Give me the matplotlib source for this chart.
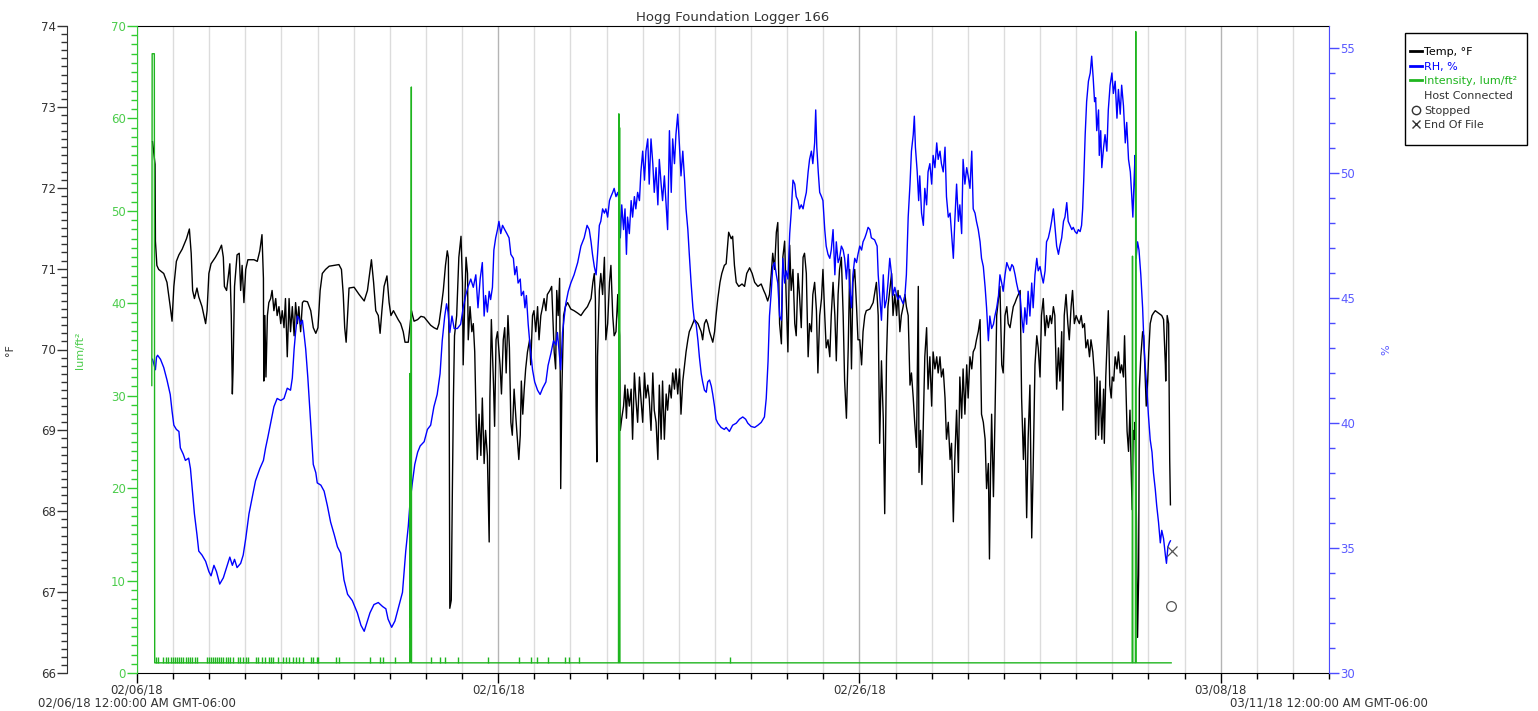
import numpy as np
import matplotlib
matplotlib.use("Agg")
import matplotlib.pyplot as plt
import matplotlib.dates as mdates
from matplotlib.lines import Line2D
from matplotlib.patches import Rectangle
from matplotlib.ticker import MultipleLocator, FixedLocator
from datetime import datetime

START = datetime(2018, 2, 6)
END = datetime(2018, 3, 11)

# all times are days since 02/06/18 12:00 AM
temp_days = [
    0.43, 0.50, 0.51, 0.55, 0.60, 0.74, 0.83, 0.92, 0.97, 1.02,
    1.09, 1.16, 1.25, 1.37, 1.45, 1.50, 1.54, 1.59, 1.66, 1.71,
    1.80, 1.90, 1.94, 1.99, 2.05, 2.17, 2.27, 2.34, 2.39, 2.42,
    2.48, 2.52, 2.57, 2.61, 2.64, 2.66, 2.70, 2.77, 2.83, 2.87,
    2.91, 2.96, 3.01, 3.07, 3.24, 3.33, 3.40, 3.46, 3.50, 3.51,
    3.54, 3.57, 3.61, 3.65, 3.70, 3.74, 3.79, 3.84, 3.88, 3.93,
    3.98, 4.02, 4.07, 4.11, 4.16, 4.21, 4.25, 4.30, 4.35, 4.39,
    4.44, 4.48, 4.53, 4.58, 4.62, 4.72, 4.81, 4.88, 4.95, 5.01,
    5.07, 5.13, 5.22, 5.32, 5.46, 5.59, 5.66, 5.71, 5.75, 5.79,
    5.83, 5.87, 6.01, 6.15, 6.29, 6.38, 6.44, 6.49, 6.55, 6.61,
    6.68, 6.73, 6.78, 6.84, 6.92, 6.98, 7.03, 7.10, 7.17, 7.23,
    7.30, 7.37, 7.42, 7.51, 7.56, 7.60, 7.63, 7.67, 7.77, 7.86,
    7.95, 8.04,
    8.13, 8.22, 8.31, 8.36, 8.41, 8.48, 8.54, 8.59, 8.62, 8.64,
    8.66, 8.70, 8.73, 8.76, 8.79, 8.85, 8.91, 8.97, 9.01, 9.03,
    9.07, 9.11, 9.15, 9.17, 9.22, 9.27, 9.31, 9.35, 9.39, 9.42,
    9.47, 9.52, 9.56, 9.61, 9.65, 9.70, 9.75, 9.77, 9.81, 9.87,
    9.90, 9.94, 9.98, 10.05, 10.09, 10.14, 10.18, 10.22, 10.27, 10.31,
    10.35, 10.39, 10.44, 10.49, 10.53, 10.57, 10.61, 10.64, 10.68, 10.72,
    10.76, 10.81, 10.87, 10.90, 10.95, 10.99, 11.04, 11.09, 11.13, 11.18,
    11.23, 11.27, 11.32, 11.36, 11.43, 11.48, 11.51, 11.55, 11.59, 11.62,
    11.66, 11.70, 11.72, 11.73, 11.76, 11.81, 11.86, 11.92, 12.01, 12.10,
    12.20, 12.29, 12.38, 12.47, 12.57, 12.62, 12.66, 12.69, 12.71, 12.73,
    12.75, 12.80, 12.84, 12.89, 12.94, 12.98, 13.03, 13.08, 13.12, 13.17,
    13.21, 13.26, 13.31, 13.33, 13.36, 13.38, 13.42, 13.47, 13.51, 13.55,
    13.58, 13.63, 13.68, 13.72, 13.77, 13.81, 13.86, 13.91, 13.95, 14.00,
    14.05, 14.09, 14.14, 14.18, 14.23, 14.28, 14.32, 14.37, 14.42, 14.46,
    14.51, 14.55, 14.60, 14.65, 14.69, 14.74, 14.79, 14.83, 14.88, 14.92,
    14.97, 15.02, 15.06, 15.11, 15.16, 15.20, 15.25, 15.29, 15.34, 15.43,
    15.53, 15.62, 15.66, 15.71, 15.76, 15.80, 15.85, 15.94, 15.99, 16.03,
    16.08, 16.14, 16.19, 16.26,
    16.31, 16.38, 16.45, 16.49, 16.54, 16.59, 16.66, 16.75, 16.82, 16.88,
    16.96, 17.03, 17.10, 17.19, 17.28, 17.35, 17.40, 17.46, 17.51, 17.56,
    17.60, 17.65, 17.70, 17.74, 17.79, 17.84, 17.88, 17.93, 17.97, 18.02,
    18.07, 18.11, 18.16, 18.21, 18.25, 18.30, 18.34, 18.39, 18.44, 18.48,
    18.53, 18.58, 18.62, 18.67, 18.71, 18.76, 18.81, 18.85, 18.90, 18.95,
    18.99, 19.04, 19.08, 19.13, 19.18, 19.22, 19.27, 19.32, 19.36, 19.41,
    19.45, 19.50, 19.55, 19.59, 19.64, 19.69, 19.73, 19.78, 19.82, 19.87,
    19.92, 19.96, 20.01, 20.06, 20.10, 20.15, 20.19, 20.29, 20.38, 20.47,
    20.52, 20.56, 20.61, 20.66, 20.70, 20.75, 20.79, 20.84, 20.89, 20.93,
    20.98, 21.03, 21.07, 21.12, 21.16, 21.21, 21.26, 21.30, 21.35, 21.40,
    21.44, 21.49, 21.53, 21.58, 21.63, 21.65, 21.69, 21.73, 21.77, 21.81,
    21.86, 21.90, 21.95, 22.00, 22.04, 22.09, 22.14, 22.18, 22.23, 22.27,
    22.32, 22.37, 22.41, 22.46, 22.51, 22.55, 22.60, 22.64, 22.69, 22.74,
    22.78, 22.83, 22.87, 22.92, 22.97, 23.01, 23.06, 23.11, 23.15, 23.20,
    23.24, 23.29, 23.34, 23.38, 23.43, 23.48, 23.52, 23.57, 23.60, 23.63,
    23.66, 23.71, 23.75, 23.80, 23.85, 23.89, 23.94, 23.98, 24.03, 24.08,
    24.12, 24.17, 24.22, 24.26, 24.31, 24.35, 24.40, 24.45,
    24.49, 24.54, 24.58, 24.63, 24.67, 24.72, 24.77, 24.81, 24.86, 24.91,
    24.95, 25.00, 25.04, 25.09, 25.14, 25.18, 25.23, 25.28, 25.32, 25.37,
    25.41, 25.46, 25.51, 25.55, 25.60, 25.63, 25.67, 25.72, 25.77, 25.81,
    25.86, 25.90, 25.95, 26.00, 26.04, 26.09, 26.14, 26.18, 26.23, 26.27,
    26.32, 26.37, 26.41, 26.46, 26.51, 26.54, 26.58, 26.62, 26.66, 26.71,
    26.76, 26.78, 26.82, 26.86, 26.89, 26.93, 26.97, 27.00, 27.04, 27.08,
    27.13, 27.17, 27.22, 27.26, 27.31, 27.34, 27.37, 27.41, 27.45, 27.49,
    27.52, 27.55, 27.58, 27.61, 27.63, 27.67, 27.70, 27.73, 27.75, 27.79,
    27.84, 27.87, 27.91, 27.94, 27.98, 28.01, 28.05, 28.10, 28.14, 28.19,
    28.28, 28.37, 28.42, 28.47, 28.48, 28.52, 28.56, 28.59, 28.61,
]
temp_f = [
    72.57, 72.29, 71.34, 71.04, 70.99, 70.94, 70.83, 70.53, 70.35, 70.78,
    71.09, 71.17, 71.24, 71.37, 71.49, 71.19, 70.73, 70.63, 70.76, 70.65,
    70.53, 70.32, 70.48, 70.94, 71.06, 71.14, 71.22, 71.29, 71.14, 70.78,
    70.73, 70.88, 71.06, 70.42, 69.45, 69.76, 70.78, 71.17, 71.19, 70.73,
    71.04, 70.58, 70.99, 71.11, 71.11, 71.09, 71.22, 71.42, 70.88, 69.61,
    70.42, 69.66, 70.42, 70.58, 70.63, 70.73, 70.48, 70.63, 70.42, 70.53,
    70.32, 70.48, 70.27, 70.63, 69.91, 70.63, 70.22, 70.53, 70.17, 70.58,
    70.32, 70.53, 70.22, 70.58, 70.60, 70.59, 70.48, 70.27, 70.20, 70.27,
    70.73, 70.94, 70.99, 71.03, 71.04, 71.05, 70.99, 70.68, 70.27, 70.09,
    70.42, 70.76, 70.77, 70.68, 70.60, 70.73, 70.94, 71.11, 70.83, 70.48,
    70.42, 70.20, 70.48, 70.78, 70.91, 70.58, 70.42, 70.48, 70.42, 70.37,
    70.32, 70.22, 70.09, 70.09, 70.30, 70.48, 70.42, 70.35, 70.37, 70.41,
    70.40, 70.35,
    70.30, 70.27, 70.25, 70.32, 70.48, 70.73, 71.04, 71.22, 71.14, 69.91,
    66.80, 66.90, 68.23, 69.40, 70.17, 70.42, 71.14, 71.40, 70.83, 69.81,
    70.53, 71.14, 70.94, 70.12, 70.53, 70.22, 70.32, 69.97, 69.10, 68.64,
    69.20, 68.69, 69.40, 68.59, 69.00, 68.69, 67.62, 69.40, 70.37, 69.56,
    69.05, 70.12, 70.22, 69.81, 69.45, 70.12, 70.27, 69.71, 70.42, 70.02,
    69.10, 68.94, 69.51, 69.15, 68.89, 68.64, 68.94, 69.61, 69.20, 69.51,
    69.76, 69.97, 70.12, 69.81, 70.42, 70.48, 70.22, 70.53, 70.12, 70.42,
    70.53, 70.63, 70.48, 70.68, 70.73, 70.78, 70.42, 69.97, 69.76, 70.73,
    70.42, 70.88, 69.51, 68.28, 69.45, 70.42, 70.53, 70.58, 70.50, 70.48,
    70.45, 70.42, 70.48, 70.53, 70.63, 70.83, 70.94, 70.63, 69.30, 68.61,
    69.91, 70.73, 70.94, 70.68, 71.14, 70.12, 70.32, 70.83, 71.04, 70.42,
    70.17, 70.22, 70.68, 70.42, 70.17, 69.00, 69.15, 69.30, 69.56, 69.15,
    69.51, 69.30, 69.51, 68.89, 69.71, 69.40, 69.10, 69.66, 69.40, 69.10,
    69.71, 69.40, 69.56, 69.40, 69.00, 69.71, 69.25, 69.10, 68.64, 69.56,
    68.89, 69.61, 68.89, 69.45, 69.25, 69.56, 69.40, 69.71, 69.51, 69.76,
    69.45, 69.76, 69.20, 69.61, 69.81, 69.97, 70.12, 70.22, 70.27, 70.37,
    70.32, 70.22, 70.12, 70.32, 70.37, 70.32, 70.22, 70.09, 70.22, 70.42,
    70.63, 70.83, 70.94, 71.04,
    71.06, 71.45, 71.37, 71.40, 71.04, 70.83, 70.78, 70.81, 70.78, 70.94,
    71.01, 70.94, 70.83, 70.78, 70.81, 70.73, 70.68, 70.60, 70.68, 70.94,
    71.19, 70.99, 71.45, 71.57, 70.32, 70.07, 71.14, 71.34, 70.68, 69.97,
    71.29, 70.73, 70.99, 70.32, 70.17, 70.94, 70.68, 70.27, 71.14, 71.19,
    70.94, 69.91, 70.32, 70.22, 70.68, 70.83, 70.48, 69.71, 70.42, 70.63,
    70.99, 70.42, 70.02, 70.12, 69.91, 70.42, 70.83, 70.42, 69.86, 70.68,
    70.99, 71.14, 70.42, 69.61, 69.15, 70.02, 70.99, 69.76, 70.83, 70.99,
    70.53, 70.12, 70.12, 69.81, 70.22, 70.42, 70.48, 70.50, 70.58, 70.83,
    70.42, 68.84, 69.86, 69.15, 67.97, 69.91, 70.53, 70.73, 70.94, 70.42,
    70.68, 70.42, 70.73, 70.22, 70.42, 70.53, 70.68, 70.53, 70.42, 69.56,
    69.71, 69.40, 69.10, 68.79, 70.78, 68.48, 69.00, 68.33, 69.10, 69.91,
    70.27, 69.51, 69.91, 69.30, 69.97, 69.76, 69.91, 69.71, 69.91, 69.66,
    69.76, 69.40, 68.89, 69.10, 68.64, 68.84, 67.87, 68.64, 69.25, 68.48,
    69.66, 69.15, 69.76, 69.20, 69.81, 69.40, 69.91, 69.76, 69.97, 70.02,
    70.12, 70.22, 70.37, 69.20, 69.10, 68.89, 68.28, 68.59, 67.41, 68.48,
    69.20, 68.18, 69.10, 70.42, 70.63, 70.78, 69.81, 69.71, 70.42, 70.53,
    70.32, 70.27, 70.42, 70.53, 70.58, 70.63, 70.68, 70.73,
    69.40, 68.64, 69.15, 67.92, 68.89, 69.56, 67.67, 68.54, 69.81, 70.17,
    70.02, 69.66, 70.42, 70.63, 70.17, 70.42, 70.27, 70.42, 70.32, 70.53,
    70.42, 69.51, 70.02, 69.61, 70.22, 69.25, 70.42, 70.68, 70.32, 70.12,
    70.53, 70.73, 70.32, 70.42, 70.37, 70.32, 70.42, 70.27, 70.32, 70.02,
    70.12, 69.91, 70.12, 69.97, 69.66, 68.89, 69.66, 68.94, 69.61, 68.89,
    69.51, 68.84, 69.66, 70.12, 70.48, 69.56, 69.40, 69.66, 69.61, 69.91,
    69.76, 69.97, 69.71, 69.81, 69.66, 70.17, 69.66, 68.99, 68.74, 69.25,
    68.59, 68.02, 69.00, 68.89, 69.10, 67.87, 66.44, 67.21, 69.51, 69.91,
    70.22, 70.17, 69.66, 69.30, 69.61, 69.97, 70.32, 70.42, 70.45, 70.48,
    70.45, 70.42, 70.37, 69.81, 69.61, 70.42, 70.32, 68.64, 68.08,
]

rh_days = [
    0.43, 0.51, 0.54, 0.57, 0.65, 0.74, 0.83, 0.92, 0.97, 1.02,
    1.09, 1.16, 1.20, 1.28, 1.34, 1.43, 1.48, 1.53, 1.59, 1.66,
    1.71, 1.80, 1.90, 1.99, 2.05, 2.13, 2.20, 2.29, 2.39, 2.48,
    2.57, 2.64, 2.70, 2.77, 2.87, 2.94, 3.01, 3.10, 3.19, 3.28,
    3.40, 3.50, 3.56, 3.62, 3.70, 3.79, 3.88, 3.98, 4.07, 4.16,
    4.25, 4.30, 4.35, 4.39, 4.44, 4.48, 4.53, 4.58, 4.62, 4.67,
    4.73, 4.81, 4.88, 4.95, 4.99, 5.09, 5.18, 5.27, 5.36, 5.46,
    5.55, 5.64, 5.73, 5.83, 5.96, 6.10, 6.20, 6.29, 6.36, 6.45,
    6.56, 6.68, 6.80, 6.89, 6.95, 7.05, 7.14, 7.23, 7.35, 7.44,
    7.51, 7.56, 7.63, 7.69, 7.77, 7.84, 7.95, 8.04,
    8.13, 8.22, 8.31, 8.39, 8.45, 8.52, 8.57, 8.61, 8.66, 8.72,
    8.78, 8.87, 8.96, 9.03, 9.10, 9.16, 9.24, 9.31, 9.38, 9.44,
    9.50, 9.56, 9.61, 9.65, 9.70, 9.75, 9.79, 9.84, 9.88, 9.93,
    9.98, 10.02, 10.07, 10.12, 10.18, 10.24, 10.30, 10.35, 10.42, 10.46,
    10.51, 10.55, 10.61, 10.64, 10.70, 10.74, 10.78, 10.83, 10.88, 10.95,
    11.01, 11.09, 11.16, 11.23, 11.32, 11.38, 11.46, 11.53, 11.60, 11.64,
    11.70, 11.73, 11.78, 11.83, 11.87, 11.94, 12.01, 12.10, 12.20, 12.29,
    12.38, 12.46, 12.52, 12.57, 12.61, 12.66, 12.71, 12.75, 12.80, 12.84,
    12.89, 12.94, 12.98, 13.03, 13.08, 13.12, 13.17, 13.21, 13.26, 13.31,
    13.35, 13.38, 13.42, 13.47, 13.51, 13.55, 13.58, 13.63, 13.68, 13.72,
    13.77, 13.81, 13.86, 13.91, 13.95, 14.00, 14.05, 14.09, 14.14, 14.18,
    14.23, 14.28, 14.32, 14.37, 14.42, 14.46, 14.51, 14.55, 14.60, 14.65,
    14.69, 14.74, 14.79, 14.83, 14.88, 14.92, 14.97, 15.02, 15.06, 15.11,
    15.16, 15.20, 15.25, 15.29, 15.34, 15.39, 15.43, 15.48, 15.53, 15.57,
    15.62, 15.66, 15.71, 15.76, 15.80, 15.85, 15.90, 15.94, 15.99, 16.03,
    16.08, 16.17, 16.26,
    16.31, 16.40, 16.49, 16.59, 16.68, 16.77, 16.85, 16.91, 17.00, 17.10,
    17.19, 17.28, 17.37, 17.42, 17.47, 17.51, 17.56, 17.60, 17.65, 17.70,
    17.74, 17.79, 17.84, 17.88, 17.93, 17.97, 18.02, 18.07, 18.11, 18.16,
    18.21, 18.25, 18.30, 18.34, 18.39, 18.44, 18.48, 18.53, 18.58, 18.62,
    18.67, 18.71, 18.76, 18.79, 18.82, 18.86, 18.90, 18.95, 18.99, 19.04,
    19.08, 19.13, 19.18, 19.22, 19.27, 19.32, 19.36, 19.41, 19.45, 19.50,
    19.55, 19.59, 19.64, 19.69, 19.73, 19.78, 19.82, 19.87, 19.92, 19.96,
    20.01, 20.06, 20.10, 20.15, 20.19, 20.24, 20.29, 20.33, 20.42, 20.49,
    20.52, 20.56, 20.61, 20.66, 20.70, 20.75, 20.79, 20.84, 20.89, 20.93,
    20.98, 21.03, 21.07, 21.12, 21.16, 21.21, 21.26, 21.30, 21.35, 21.40,
    21.44, 21.49, 21.52, 21.55, 21.60, 21.64, 21.67, 21.72, 21.77, 21.81,
    21.86, 21.90, 21.95, 22.00, 22.04, 22.09, 22.14, 22.18, 22.23, 22.27,
    22.32, 22.37, 22.41, 22.46, 22.51, 22.55, 22.60, 22.64, 22.69, 22.74,
    22.78, 22.83, 22.87, 22.92, 22.97, 23.01, 23.06, 23.11, 23.15, 23.20,
    23.24, 23.29, 23.34, 23.38, 23.43, 23.48, 23.52, 23.57, 23.61, 23.66,
    23.71, 23.75, 23.80, 23.85, 23.89, 23.94, 23.98, 24.03, 24.08, 24.12,
    24.17, 24.22, 24.26, 24.31, 24.35, 24.40, 24.45,
    24.49, 24.54, 24.58, 24.63, 24.67, 24.72, 24.77, 24.81, 24.86, 24.91,
    24.95, 25.00, 25.04, 25.09, 25.14, 25.18, 25.23, 25.28, 25.32, 25.37,
    25.41, 25.46, 25.51, 25.55, 25.60, 25.65, 25.69, 25.74, 25.78, 25.83,
    25.88, 25.92, 25.97, 26.02, 26.06, 26.11, 26.15, 26.18, 26.21, 26.25,
    26.29, 26.34, 26.39, 26.43, 26.47, 26.51, 26.54, 26.57, 26.62, 26.64,
    26.68, 26.71, 26.76, 26.80, 26.85, 26.89, 26.94, 26.99, 27.03, 27.08,
    27.13, 27.17, 27.22, 27.26, 27.31, 27.36, 27.40, 27.45, 27.50, 27.54,
    27.57, 27.60, 27.63, 27.66, 27.70, 27.74, 27.79, 27.84, 27.87, 27.91,
    27.96, 28.00, 28.05, 28.10, 28.14, 28.19, 28.23, 28.28, 28.33, 28.37,
    28.42, 28.47, 28.50, 28.54, 28.58, 28.61,
]
rh_pct = [
    42.56, 42.14, 42.64, 42.72, 42.56, 42.23, 41.73, 41.15, 40.49, 39.92,
    39.75, 39.67, 39.01, 38.76, 38.51, 38.60, 38.18, 37.36, 36.37, 35.54,
    34.88, 34.72, 34.47, 34.06, 33.89, 34.31, 34.06, 33.56, 33.81, 34.22,
    34.64, 34.31, 34.55, 34.22, 34.39, 34.72, 35.38, 36.37, 37.03, 37.69,
    38.18, 38.51, 39.01, 39.42, 40.00, 40.66, 40.99, 40.91, 40.99, 41.40,
    41.32, 41.81, 42.97, 43.63, 44.29, 44.21, 43.96, 44.12, 43.63, 42.97,
    41.81, 40.00, 38.35, 38.02, 37.61, 37.52, 37.28, 36.70, 36.04, 35.54,
    35.05, 34.80, 33.73, 33.15, 32.90, 32.41, 31.91, 31.67, 32.00, 32.41,
    32.74, 32.82, 32.66, 32.57, 32.16, 31.83, 32.08, 32.57, 33.23, 34.88,
    35.87, 36.86, 37.69, 38.35, 38.84, 39.09, 39.26, 39.75,
    39.92, 40.66, 41.15, 41.98, 43.30, 44.29, 44.78, 44.45, 43.63, 44.29,
    43.79, 43.79, 43.96, 44.62, 45.11, 45.44, 45.77, 45.44, 45.94, 44.62,
    45.77, 46.43, 44.29, 45.11, 44.45, 45.28, 44.95, 45.44, 46.93, 47.42,
    47.75, 48.08, 47.59, 47.92, 47.75, 47.59, 47.42, 46.76, 46.60, 45.94,
    46.27, 45.61, 45.77, 45.11, 45.28, 44.62, 45.11, 43.96, 43.13, 42.14,
    41.65, 41.32, 41.15, 41.40, 41.65, 42.31, 42.80, 43.30, 43.13, 43.63,
    42.64, 42.14, 43.63, 44.29, 44.78, 45.28, 45.61, 45.94, 46.43, 47.09,
    47.42, 47.92, 47.75, 47.26, 46.76, 46.27, 45.94, 46.76, 47.92, 48.08,
    48.58, 48.41, 48.58, 48.25, 48.91, 49.07, 49.24, 49.40, 49.07, 49.24,
    48.91, 47.42, 48.74, 47.75, 48.58, 46.76, 48.25, 47.59, 48.91, 48.25,
    49.07, 48.58, 49.24, 48.91, 50.06, 50.89, 49.73, 50.89, 51.38, 49.57,
    51.38, 50.39, 49.24, 50.23, 48.74, 50.56, 49.57, 48.91, 49.90, 48.74,
    47.75, 51.71, 49.24, 51.38, 50.39, 51.55, 52.37, 51.05, 49.90, 50.89,
    49.73, 48.58, 47.75, 46.76, 45.61, 44.62, 44.12, 43.96, 43.30, 42.64,
    41.98, 41.65, 41.32, 41.24, 41.65, 41.73, 41.48, 41.15, 40.66, 40.16,
    40.00, 39.83, 39.75,
    39.83, 39.67, 39.92, 40.00, 40.16, 40.25, 40.16, 40.00, 39.87, 39.83,
    39.92, 40.03, 40.25, 40.99, 42.47, 44.29, 45.28, 46.27, 46.43, 45.94,
    45.61, 44.29, 44.12, 46.60, 45.61, 46.10, 45.77, 47.59, 48.41, 49.73,
    49.57, 49.07, 48.91, 48.58, 48.74, 48.58, 48.91, 49.24, 50.06, 50.56,
    50.89, 50.39, 51.22, 52.54, 51.05, 50.06, 49.24, 49.07, 48.91, 47.75,
    47.09, 46.76, 46.60, 46.93, 47.75, 45.94, 47.26, 46.43, 46.60, 47.09,
    46.93, 46.60, 45.77, 46.76, 45.44, 44.62, 45.94, 46.60, 46.43, 46.76,
    47.09, 46.93, 47.26, 47.42, 47.59, 47.84, 47.75, 47.42, 47.34, 47.09,
    45.94, 45.11, 44.12, 45.94, 44.62, 44.95, 45.61, 46.60, 45.94, 45.11,
    45.44, 45.11, 44.95, 45.11, 44.95, 44.78, 45.11, 45.94, 48.25, 49.57,
    50.89, 51.55, 52.29, 51.05, 50.06, 48.91, 49.90, 48.41, 47.92, 49.40,
    48.74, 50.06, 50.39, 49.57, 50.72, 50.23, 51.22, 50.56, 50.89, 50.39,
    50.06, 51.05, 49.07, 48.25, 48.41, 47.59, 46.60, 48.08, 49.57, 48.08,
    48.74, 47.59, 50.56, 49.57, 50.23, 49.90, 49.40, 50.89, 48.58, 48.41,
    48.08, 47.75, 47.26, 46.60, 46.27, 45.44, 44.62, 43.30, 44.29, 43.79,
    43.96, 44.29, 44.62, 45.11, 45.94, 45.61, 45.28, 45.94, 46.43, 46.27,
    46.10, 46.35, 46.27, 45.94, 45.61, 45.28, 45.11,
    44.29, 43.63, 44.62, 43.96, 45.28, 44.29, 45.61, 44.62, 45.94, 46.60,
    46.10, 46.27, 45.94, 45.61, 46.10, 47.26, 47.42, 47.75, 48.08, 48.58,
    47.92, 47.09, 46.76, 47.09, 47.42, 48.08, 48.25, 48.83, 48.08, 47.92,
    47.75, 47.84, 47.67, 47.59, 47.75, 47.67, 47.92, 48.58, 49.73, 51.55,
    52.87, 53.69, 54.02, 54.69, 53.86, 52.87, 53.03, 51.71, 52.54, 50.72,
    51.71, 50.23, 51.05, 51.55, 50.89, 52.54, 53.53, 54.02, 53.20, 53.69,
    52.21, 53.36, 52.37, 53.53, 52.70, 51.22, 52.04, 50.56, 50.06, 49.07,
    48.25, 49.57, 50.72, 46.60, 47.26, 46.93, 45.94, 44.62, 43.46, 42.31,
    41.32, 40.33, 39.34, 38.84, 38.02, 37.36, 36.70, 36.04, 35.21, 35.71,
    35.38, 34.72, 34.39, 35.05, 35.21, 35.29,
]

light_days = [0.41, 0.42, 0.48, 0.49,
              7.55, 7.555, 7.565, 7.57, 7.58, 7.595, 7.60,
              13.33, 13.34, 13.35, 13.36, 13.37,
              27.55, 27.56, 27.57, 27.64, 27.65, 27.66, 28.63]
light_lum = [31.1, 67.0, 67.0, 1.1,
             1.1, 32.4, 5.0, 30.0, 1.1, 63.4, 1.1,
             1.1, 60.5, 1.1, 59.0, 1.1,
             1.1, 45.1, 1.1, 1.1, 69.4, 1.1, 1.1]
# short flickers just above the night level
blip_days = [0.53, 0.58, 0.72, 0.80, 0.86, 0.94, 1.00, 1.05, 1.11, 1.17,
             1.22, 1.28, 1.36, 1.41, 1.47, 1.53, 1.61, 1.66, 1.94, 2.00,
             2.05, 2.11, 2.16, 2.22, 2.27, 2.33, 2.39, 2.47, 2.52, 2.58,
             2.66, 2.80, 2.86, 2.94, 3.02, 3.08, 3.30, 3.36, 3.47, 3.55,
             3.66, 3.72, 3.77, 3.91, 4.05, 4.13, 4.22, 4.33, 4.41, 4.49,
             4.60, 4.83, 4.88, 4.97, 5.02, 5.52, 5.60, 6.44, 6.74, 6.82,
             7.13, 8.13, 8.38, 8.54, 8.90, 9.71, 10.57, 10.90, 11.07, 11.37,
             11.84, 11.96, 12.23, 16.42]
night_lum = 1.1
blip_lum = 1.75

stopped_day, stopped_rh = 28.62, 32.7
eof_day, eof_rh = 28.64, 34.9

assert len(temp_days) == len(temp_f)
assert len(rh_days) == len(rh_pct)
assert len(light_days) == len(light_lum)

TEMP_C = "black"
RH_C = "#0000ff"
LI_C = "#1fb51f"
LI_AX = "#33cc33"
RH_AX = "#4b4bff"
GREY = "#333333"

W, H = 1538, 711
L, R, T, B = 137, 1329, 26, 673

t0 = mdates.date2num(START)
t1 = mdates.date2num(END)


def tx(days):
    return t0 + np.asarray(days)


fig = plt.figure(figsize=(W / 100, H / 100), dpi=100)
ax = fig.add_axes([L / W, 1 - B / H, (R - L) / W, (B - T) / H])
ax_rh = ax.twinx()
ax_li = ax.twinx()

# temperature (host axis, outer left scale)
ax.plot(tx(temp_days), temp_f, color=TEMP_C, lw=1.0)
ax.set_ylim(66, 74)
ax.set_xlim(t0, t1)
ax.yaxis.set_major_locator(MultipleLocator(1))
ax.yaxis.set_minor_locator(MultipleLocator(0.1))
ax.spines["left"].set_position(("axes", -(L - 67) / (R - L)))
ax.spines["left"].set_color(GREY)
ax.spines["right"].set_visible(False)
ax.tick_params(axis="y", which="major", length=7, width=1, pad=1,
               labelsize=8.5, color=GREY, labelcolor=GREY)
ax.tick_params(axis="y", which="minor", length=4, width=1, color=GREY)

ax.xaxis.set_major_locator(FixedLocator([t0 + 10 * k for k in range(4)]))
ax.xaxis.set_minor_locator(mdates.DayLocator())
ax.xaxis.set_major_formatter(mdates.DateFormatter("%m/%d/%y"))
ax.tick_params(axis="x", which="major", length=7, width=1, pad=0.5,
               labelsize=8.5, color="black", labelcolor=GREY)
ax.tick_params(axis="x", which="minor", length=4, width=1, color="black")
ax.grid(which="minor", axis="x", color="#dcdcdc", lw=1)
ax.grid(which="major", axis="x", color="#b4b4b4", lw=1)
ax.set_axisbelow(True)

# relative humidity (right scale)
ax_rh.plot(tx(rh_days), rh_pct, color=RH_C, lw=1.0)
ax_rh.plot(tx([eof_day]), [eof_rh], ls="none", marker="x", ms=7,
           mew=0.9, color="#555555")
ax_rh.plot(tx([stopped_day]), [stopped_rh], ls="none", marker="o", ms=7,
           mfc="none", mew=0.9, mec="#555555")
ax_rh.set_ylim(30, 55.9)
ax_rh.yaxis.set_major_locator(MultipleLocator(5))
ax_rh.yaxis.set_minor_locator(MultipleLocator(1))
for s in ("left", "top", "bottom"):
    ax_rh.spines[s].set_visible(False)
ax_rh.spines["right"].set_color(RH_AX)
ax_rh.tick_params(axis="y", which="major", length=7, width=1, pad=1,
                  labelsize=8.5, color=RH_AX, labelcolor="#5a5aff")
ax_rh.tick_params(axis="y", which="minor", length=4, width=1, color=RH_AX)

# light intensity (inner left scale)
ax_li.plot(tx(light_days), light_lum, color=LI_C, lw=1.0)
ax_li.vlines(tx(blip_days), night_lum, blip_lum, color=LI_C, lw=1.0)
ax_li.set_ylim(0, 70)
ax_li.yaxis.set_ticks_position("left")
ax_li.yaxis.set_label_position("left")
ax_li.yaxis.set_major_locator(MultipleLocator(10))
ax_li.yaxis.set_minor_locator(MultipleLocator(1))
for s in ("right", "top", "bottom"):
    ax_li.spines[s].set_visible(False)
ax_li.spines["left"].set_visible(True)
ax_li.spines["left"].set_color(LI_AX)
ax_li.tick_params(axis="y", which="major", length=7, width=1, pad=1,
                  labelsize=8.5, color=LI_AX, labelcolor="#4ccc4c")
ax_li.tick_params(axis="y", which="minor", length=4, width=1, color=LI_AX)

# axis names and title
fig.text(10 / W, 1 - 350 / H, "°F", rotation=90, ha="center", va="center",
         fontsize=8, color=GREY)
fig.text(80 / W, 1 - 350 / H, "lum/ft²", rotation=90, ha="center",
         va="center", fontsize=8, color="#4ccc4c")
fig.text(1386 / W, 1 - 350 / H, "%", rotation=90, ha="center", va="center",
         fontsize=8, color="#5a5aff")
fig.text((L + R) / 2 / W, 1 - 17 / H, "Hogg Foundation Logger 166",
         ha="center", va="center", fontsize=9.5, color=GREY)

stamp = "%m/%d/%y %I:%M:%S %p GMT-06:00"
fig.text(L / W, 1 - 703 / H, START.strftime(stamp), ha="center",
         va="center", fontsize=8.5, color=GREY)
fig.text(R / W, 1 - 703 / H, END.strftime(stamp), ha="center",
         va="center", fontsize=8.5, color=GREY)

# legend in a plain box
fig.patches.append(Rectangle((1405 / W, 1 - 145 / H), 122 / W, 112 / H,
                             transform=fig.transFigure, fill=False,
                             edgecolor="black", lw=1))
handles = [
    Line2D([], [], color=TEMP_C, lw=2),
    Line2D([], [], color=RH_C, lw=2),
    Line2D([], [], color=LI_C, lw=2),
    Line2D([], [], ls="none"),
    Line2D([], [], ls="none", marker="o", ms=6, mfc="none", mec=GREY),
    Line2D([], [], ls="none", marker="x", ms=6, color=GREY),
]
labels = ["Temp, °F", "RH, %", "Intensity, lum/ft²", "Host Connected",
          "Stopped", "End Of File"]
leg = fig.legend(handles, labels, loc="upper left",
                 bbox_to_anchor=(1410 / W, 1 - 47 / H), frameon=False,
                 fontsize=8, handlelength=1.1, handletextpad=0.2,
                 labelspacing=0.42, borderpad=0, borderaxespad=0)
for txt, c in zip(leg.get_texts(), [TEMP_C, RH_C, LI_C, GREY, GREY, GREY]):
    txt.set_color(c)

fig.savefig("out.png", dpi=100)
